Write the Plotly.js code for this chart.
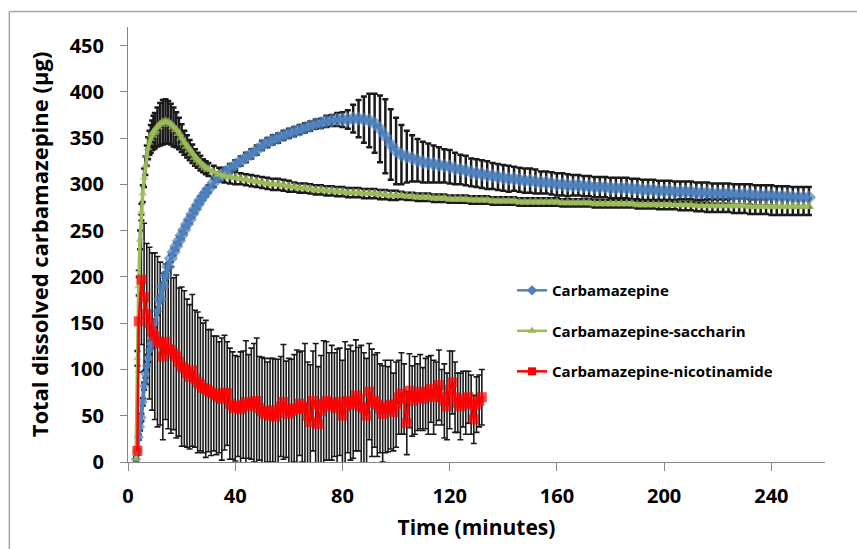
<!DOCTYPE html>
<html>
<head>
<meta charset="utf-8">
<script src="https://cdn.plot.ly/plotly-3.0.1.min.js"></script>
<style>html,body{margin:0;padding:0;background:#fff;}#chart{width:857px;height:549px;}</style>
</head>
<body>
<div id="chart"></div>
<script>
// Time grid (minutes) shared by Carbamazepine and Carbamazepine-saccharin
const timeA = [3,3.5,4,4.5,5,5.5,6,6.5,7,7.5,8,8.5,9,9.5,10,11,12,13,14,15,16,17,18,19,20,21,22,23,24,25,26,27,28,29,30,
  32,34,36,38,40,42,44,46,48,50,
  52,54,56,58,60,62,64,66,68,70,
  72,74,76,78,80,82,84,86,88,90,
  92,94,96,98,100,102,104,106,108,110,
  112,114,116,118,120,122,124,126,128,130,
  132,134,136,138,140,142,144,146,148,150,
  152,154,156,158,160,162,164,166,168,170,
  172,174,176,178,180,182,184,186,188,190,
  192,194,196,198,200,202,204,206,208,210,
  212,214,216,218,220,222,224,226,228,230,
  232,234,236,238,240,242,244,246,248,250,
  252,254];

const cbz = [3,12,27,38,48,65,82,95,104,112,121,127,132,141,150,163,176,190,201,211,220,227,233,239,245,251,257,262,268,273,278,283,287,291,295,
  302,308,313,317,321,325,329,333,337,342,
  345,348,350,353,355,357,359,361,363,365,
  366,368,369,370,370,370,371,371,370,369,
  366,360,352,343,336,332,330,328,326,324,
  323,322,321,320,319,317,316,315,313,312,
  311,310,309,308,307,306,306,305,304,304,
  303,302,302,301,300,300,299,299,299,298,
  298,297,297,297,296,296,296,296,295,295,
  294,294,294,293,293,293,292,292,292,292,
  291,291,291,290,290,290,290,289,289,289,
  289,288,288,288,288,287,287,287,286,286,
  286,286];
const cbzErr = [1,2,3,4,4,4,4,4,4,4,4,4,4,4,4,4,4,4,4,4,4,4,4,4,4,4,4,4,4,4,4,4,4,4,4,
  5,5,5,5,5,5,5,5,5,5,
  5,5,5,5,5,5,5,5,5,5,
  5,6,6,7,8,10,15,20,25,29,
  32,36,40,38,36,32,28,25,23,22,
  21,20,19,18,18,17,16,16,15,15,
  15,15,14,14,14,14,13,13,13,13,
  13,12,12,12,12,12,12,11,11,11,
  11,11,11,11,11,11,11,11,11,11,
  11,11,11,11,11,11,11,11,11,11,
  11,11,11,11,11,11,11,11,11,11,
  11,11,11,11,11,11,11,11,11,11,
  11,11];

const sac = [3,112,190,240,270,290,307,320,331,339,345,349,353,356,358,362,365,367,368,367,365,362,359,355,350,345,341,337,333,329,326,323,320,318,316,
  313,311,309,308,307,306,305,304,303,302,
  301,300,300,299,298,297,296,296,295,294,
  294,293,293,292,292,291,291,291,290,290,
  290,289,289,288,288,288,287,287,286,286,
  286,285,285,285,284,284,284,284,283,283,
  283,283,282,282,282,282,282,281,281,281,
  281,281,281,281,281,280,280,280,280,280,
  280,279,279,279,279,279,279,279,279,278,
  278,278,278,278,278,278,278,278,278,278,
  277,277,277,277,277,277,277,277,277,277,
  276,276,276,276,276,276,276,276,276,276,
  276,276];
const sacErr = [2,8,10,10,9,9,10,10,11,12,13,15,16,18,19,21,23,24,24,23,22,21,19,17,15,13,12,11,10,9,8,8,7,7,7,
  7,7,7,7,7,6,6,6,6,6,
  6,6,6,6,6,5,5,5,5,5,
  5,5,5,5,5,5,5,5,5,5,
  5,5,5,5,5,4,4,4,4,4,
  4,4,4,4,4,4,4,4,4,4,
  4,4,4,4,4,4,4,4,4,4,
  4,4,4,4,4,4,4,4,4,4,
  4,4,4,4,4,4,4,4,4,4,
  4,4,4,5,5,5,5,6,6,6,
  6,6,7,7,7,7,7,8,8,8,
  8,8,8,8,9,9,9,9,9,9,
  9,9];

// Carbamazepine-nicotinamide
const timeN = [3.5,4,5,6,7,8,9,10,11,12,
  13,14,15,16,17,18,19,20,21,22,
  23,24,25,26,27,28,29,30,31,32,
  33,34,35,36,37,38,39,40,41,42,
  43,44,45,46,47,48,49,50,51,52,
  53,54,55,56,57,58,59,60,61,62,
  63,64,65,66,67,68,69,70,71,72,
  73,74,75,76,77,78,79,80,81,82,
  83,84,85,86,87,88,89,90,91,92,
  93,94,95,96,97,98,99,100,101,102,
  103,104,105,106,107,108,109,110,111,112,
  113,114,115,116,117,118,119,120,121,122,
  123,124,125,126,127,128,129,130,131,132];
const nic = [12,152,197,178,160,150,141,136,130,128,
  114,130,122,121,117,114,108,103,101,96,
  92,99,90,86,84,80,79,77,75,74,
  72,70,68,75,74,63,61,58,60,57,
  62,65,60,63,64,66,58,55,52,54,
  50,56,49,53,60,65,57,52,55,58,
  57,63,60,58,50,43,66,62,41,55,
  63,66,60,64,62,58,65,50,60,66,
  64,62,72,68,60,58,50,76,64,66,
  62,58,52,60,57,62,54,62,70,74,
  68,42,77,66,72,70,76,68,74,72,
  79,70,74,83,70,66,60,78,86,70,
  64,60,68,64,70,62,46,62,66,70];
const nicErr = [5,55,70,80,76,82,85,90,92,88,
  90,84,86,90,82,88,80,86,84,80,
  78,82,74,76,72,70,74,66,68,62,
  64,60,66,62,56,60,58,57,54,62,
  58,66,56,60,64,68,56,58,60,54,
  62,56,62,58,54,62,52,60,56,58,
  64,56,60,70,58,62,54,66,62,60,
  68,64,58,62,56,64,58,60,70,56,
  62,58,60,56,66,60,62,52,58,50,
  56,48,52,50,46,48,42,46,40,44,
  38,34,40,38,42,36,40,34,38,42,
  36,40,34,38,30,40,36,42,34,38,
  32,36,30,34,28,32,26,30,28,30];

const names = ['Carbamazepine','Carbamazepine-saccharin','Carbamazepine-nicotinamide'];
const colors = ['#4F81BD','#9BBB59','#FF0000'];
const symbols = ['diamond','triangle-up','square'];
const series = [[timeA,cbz,cbzErr],[timeA,sac,sacErr],[timeN,nic,nicErr]];
const errThick = [2.5,2.5,1.6];
// marker sizes: small where points are sparse (start), larger where they merge into a band
const sizeFor = [t => t < 12 ? 8 : 11, t => t < 9 ? 8 : 10, t => 10];
const lWidth = [4,3.5,2.5];

const traces = [];
// error bars first (drawn underneath all markers)
series.forEach((s,i)=>{
  traces.push({x:s[0],y:s[1],type:'scatter',mode:'markers',showlegend:false,hoverinfo:'skip',
    marker:{size:1,color:'rgba(0,0,0,0)'},
    error_y:{type:'data',array:s[2],visible:true,color:'#1a1a1a',thickness:errThick[i],width:3}});
});
series.forEach((s,i)=>{
  traces.push({x:s[0],y:s[1],type:'scatter',mode:'lines+markers',name:names[i],showlegend:false,
    line:{color:colors[i],width:lWidth[i]},
    marker:{symbol:symbols[i],size:s[0].map(sizeFor[i]),color:colors[i],line:{width:0}}});
});
// legend-only entries with small symbols, as in the original legend
names.forEach((n,i)=>{
  traces.push({x:[null],y:[null],type:'scatter',mode:'lines+markers',name:n,legendgroup:'g'+i,
    line:{color:colors[i],width:2.5},marker:{symbol:symbols[i],size:8,color:colors[i]}});
});

const fontFam = '"Open Sans", "Liberation Sans", sans-serif';
const layout = {
  width:857,height:549,
  margin:{l:128,r:32,t:27,b:87},
  paper_bgcolor:'#fff',plot_bgcolor:'#fff',
  showlegend:true,
  legend:{x:0.551,y:0.432,xanchor:'left',yanchor:'top',bgcolor:'rgba(0,0,0,0)',
    font:{family:fontFam,size:15,color:'#000',weight:'bold'},tracegroupgap:18,itemwidth:30},
  xaxis:{range:[0,260],tickvals:[0,40,80,120,160,200,240],ticks:'outside',ticklen:8,tickcolor:'#868686',
    showline:true,linecolor:'#868686',linewidth:1,showgrid:false,zeroline:false,
    tickfont:{family:fontFam,size:20,color:'#000',weight:'bold'},ticklabelstandoff:8,
    title:{text:'Time (minutes)',font:{family:fontFam,size:21,color:'#000',weight:'bold'},standoff:12}},
  yaxis:{range:[0,470],tickvals:[0,50,100,150,200,250,300,350,400,450],ticks:'outside',ticklen:7,tickcolor:'#868686',
    showline:true,linecolor:'#868686',linewidth:1,showgrid:false,zeroline:false,
    tickfont:{family:fontFam,size:20,color:'#000',weight:'bold'},ticklabelstandoff:12,
    title:{text:'Total dissolved carbamazepine (µg)',font:{family:fontFam,size:22,color:'#000',weight:'bold'},standoff:14}},
  shapes:[
    {type:'line',xref:'paper',yref:'paper',x0:-0.1703,x1:1.05,y0:1.0356,y1:1.0356,line:{color:'#A6A6A6',width:1.5}},
    {type:'line',xref:'paper',yref:'paper',x0:-0.1703,x1:-0.1703,y0:1.0356,y1:-0.21,line:{color:'#A6A6A6',width:1.5}}
  ],
  hovermode:false
};
Plotly.newPlot('chart',traces,layout,{staticPlot:true,displayModeBar:false});
</script>
</body>
</html>
